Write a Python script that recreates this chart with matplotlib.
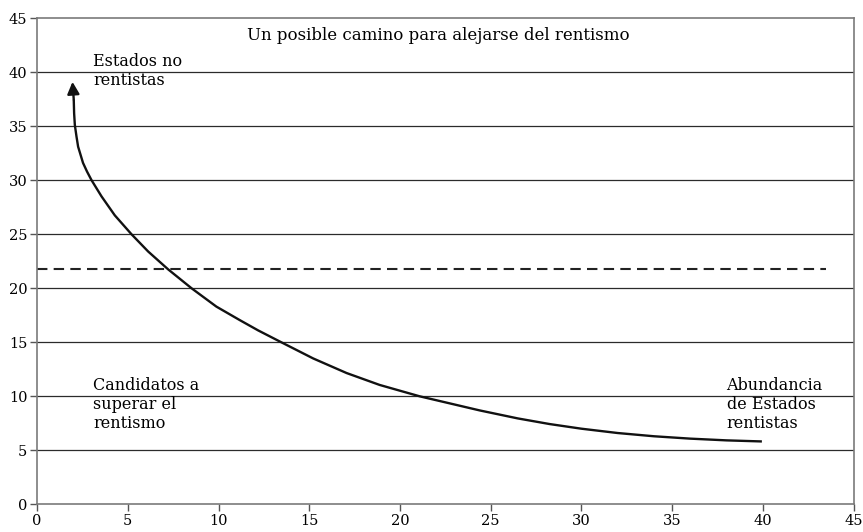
import matplotlib
matplotlib.use('Agg')
import matplotlib.pyplot as plt

# path from "Abundancia de Estados rentistas" towards "Estados no rentistas"
camino_x = [39.95, 38.0, 36.0, 34.0, 32.0, 30.0, 28.25, 26.5, 24.4, 21.08, 18.88,
            17.06, 15.22, 13.4, 12.18, 11.17, 9.88, 8.51, 7.22, 6.12, 5.2, 4.28,
            3.55, 3.0, 2.75, 2.53, 2.26, 2.17, 2.08, 2.04, 2.02]
camino_y = [5.82, 5.92, 6.08, 6.3, 6.6, 7.0, 7.43, 7.95, 8.69, 10.0, 11.05,
            12.15, 13.5, 15.05, 16.1, 17.05, 18.3, 20.0, 21.75, 23.4, 25.0, 26.75,
            28.5, 30.0, 30.8, 31.6, 33.1, 34.05, 35.1, 36.2, 37.45]
punta = (1.95, 39.1)
umbral = 21.8
umbral_x = [0, 43.5]
ticks = list(range(0, 50, 5))

titulo = 'Un posible camino para alejarse del rentismo'
etiquetas = [
    ('Estados no\nrentistas', 3.1, 41.8),
    ('Candidatos a\nsuperar el\nrentismo', 3.1, 11.8),
    ('Abundancia\nde Estados\nrentistas', 38.0, 11.8),
]

plt.rcParams['font.family'] = ['DejaVu Serif']

fig = plt.figure(figsize=(8.63, 5.32), dpi=100)
ax = fig.add_axes([0.043, 0.052, 0.946, 0.914])

for t in ticks[1:-1]:
    ax.axhline(t, color='#2b2b2b', lw=0.9, zorder=1)

ax.plot(umbral_x, [umbral, umbral], color='#222222', lw=1.5, ls=(0, (5, 3)), zorder=2)

ax.plot(camino_x, camino_y, color='#111111', lw=1.7, solid_joinstyle='round',
        solid_capstyle='butt', zorder=3)
ax.annotate('', xy=punta, xytext=(camino_x[-1], camino_y[-1]),
            arrowprops=dict(arrowstyle='-|>', color='#111111', lw=1.7,
                            mutation_scale=18, shrinkA=0, shrinkB=0), zorder=4)

ax.text(22.1, 43.4, titulo, ha='center', va='center', fontsize=12)
for txt, x, y in etiquetas:
    ax.text(x, y, txt, ha='left', va='top', fontsize=11.5, linespacing=1.15)

ax.set_xlim(0, 45)
ax.set_ylim(0, 45)
ax.set_xticks(ticks)
ax.set_yticks(ticks)
for s in ax.spines.values():
    s.set_color('#7a7a7a')
    s.set_linewidth(1.2)
ax.tick_params(direction='out', length=5, width=1, color='#555555',
               labelsize=10.5, pad=2)

fig.savefig('out.png', dpi=100)
